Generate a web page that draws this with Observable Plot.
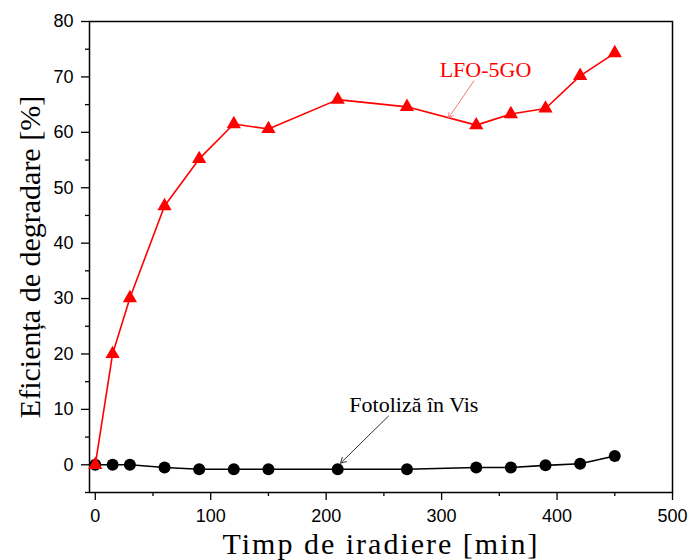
<!DOCTYPE html>
<html><head><meta charset="utf-8">
<script src="https://cdn.jsdelivr.net/npm/d3@7"></script>
<script src="https://cdn.jsdelivr.net/npm/@observablehq/plot@0.6"></script>
<style>body{margin:0;background:#fff}</style>
</head><body><div id="chart"></div>
<script>
// Data
const times = [0, 15, 30, 60, 90, 120, 150, 210, 270, 330, 360, 390, 420, 450];
const lfo5go = [0, 20, 30.1, 46.7, 55.2, 61.5, 60.6, 65.9, 64.6, 61.3, 63.3, 64.3, 70.2, 74.3];
const fotoliza = [0, 0, 0, -0.5, -0.8, -0.8, -0.8, -0.8, -0.8, -0.5, -0.5, -0.1, 0.2, 1.6];

const xMajor = [0, 100, 200, 300, 400, 500];
const xMinor = [50, 150, 250, 350, 450];
const yMajor = [0, 10, 20, 30, 40, 50, 60, 70, 80];
const yMinor = [-5, 5, 15, 25, 35, 45, 55, 65, 75];

const xTitle = "Timp de iradiere [min]";
const yTitle = "Eficiența de degradare [%]";

// annotations (data coordinates)
const labelLFO = {text: "LFO-5GO", x: 338, y: 71.3};
const arrowLFO = {x1: 328, y1: 69.3, x2: 306, y2: 62.6};
const labelFot = {text: "Fotoliză în Vis", x: 276, y: 10.8};
const arrowFot = {x1: 254, y1: 8.8, x2: 212.5, y2: 0.3};

const lfoData = times.map((t, i) => ({t, v: lfo5go[i]}));
const fotData = times.map((t, i) => ({t, v: fotoliza[i]}));

const sans = "'Liberation Sans', Arial, sans-serif";
const serif = "'Liberation Serif', 'Times New Roman', serif";

const chart = Plot.plot({
  width: 689,
  height: 560,
  marginLeft: 89,
  marginRight: 17,
  marginTop: 21,
  marginBottom: 68,
  style: {background: "#fff", color: "black"},
  x: {domain: [-5, 500]},
  y: {domain: [-5, 80]},
  marks: [
    Plot.axisX(xMajor, {tickSize: 8, tickPadding: 9, fontSize: 18, fontFamily: sans, strokeWidth: 1.3, label: null}),
    Plot.axisX(xMinor, {tickSize: 4, text: null, strokeWidth: 1.3, label: null}),
    Plot.axisY(yMajor, {tickSize: 8, tickPadding: 8, fontSize: 18, fontFamily: sans, strokeWidth: 1.3, label: null}),
    Plot.axisY(yMinor, {tickSize: 4, text: null, strokeWidth: 1.3, label: null}),
    Plot.frame({stroke: "black", strokeWidth: 1.5}),
    Plot.text([xTitle], {frameAnchor: "bottom", textAnchor: "middle", dy: 51.5, lineAnchor: "middle", fontSize: 30, fontFamily: serif, fill: "black", className: "xtitle"}),
    Plot.text([yTitle], {frameAnchor: "left", textAnchor: "middle", dx: -59, rotate: -90, lineAnchor: "middle", fontSize: 30, fontFamily: serif, fill: "black"}),
    Plot.line(fotData, {x: "t", y: "v", stroke: "black", strokeWidth: 1.6}),
    Plot.dot(fotData, {x: "t", y: "v", r: 6, fill: "black", stroke: "none"}),
    Plot.line(lfoData, {x: "t", y: "v", stroke: "#ff0000", strokeWidth: 1.6}),
    Plot.dot(lfoData, {x: "t", y: "v", r: 5.3, symbol: "triangle", fill: "#ff0000", stroke: "none"}),
    Plot.arrow([arrowLFO], {x1: "x1", y1: "y1", x2: "x2", y2: "y2", stroke: "#f06a6a", strokeWidth: 0.9, headLength: 9, bend: 0}),
    Plot.arrow([arrowFot], {x1: "x1", y1: "y1", x2: "x2", y2: "y2", stroke: "#333", strokeWidth: 1, headLength: 9, bend: 0}),
    Plot.text([labelLFO], {x: "x", y: "y", text: "text", fill: "#ff0000", fontSize: 22, fontFamily: serif, lineAnchor: "middle"}),
    Plot.text([labelFot], {x: "x", y: "y", text: "text", fill: "black", fontSize: 22, fontFamily: serif, lineAnchor: "middle"})
  ]
});
// widen the x-axis title slightly, as in the reference
d3.select(chart).selectAll("g.xtitle text").style("letter-spacing", "2px");
document.getElementById("chart").appendChild(chart);
</script>
</body></html>
